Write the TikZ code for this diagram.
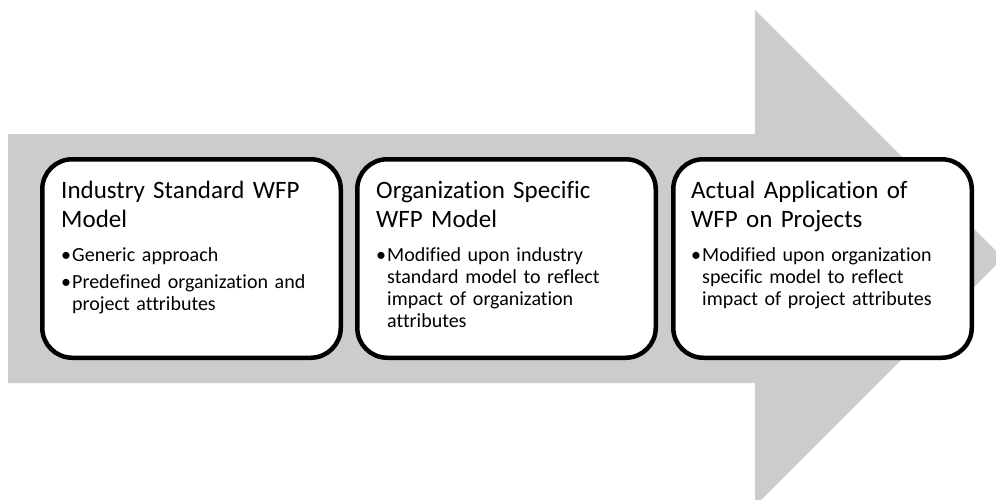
\documentclass[tikz,border=0pt]{standalone}
\usepackage{fontspec}
\setmainfont{Carlito}[Ligatures=NoCommon]
\definecolor{arrowgrey}{RGB}{204,204,204}
% one bulleted paragraph with a hanging indent (close it with \par inside the node)
\newcommand\bitem{\noindent\hangindent=11pt\relax\hbox to 11pt{\textbullet\hfil}}
\begin{document}
\begin{tikzpicture}[x=1pt,y=-1pt,
  stagebox/.style={draw=black, fill=white, line width=4.5pt, rounded corners=30pt,
    minimum width=298.5pt, minimum height=198.5pt, inner sep=0pt},
  titletext/.style={anchor=base west, inner sep=0pt, text width=285pt,
    font=\fontsize{25}{29}\selectfont\raggedright},
  bullettext/.style={anchor=base west, inner sep=0pt, text width=285pt,
    font=\fontsize{20}{22}\selectfont\raggedright}]
\useasboundingbox (0,0) rectangle (996,499);
% large grey process arrow behind the stages
\begin{scope}
  \clip (0,0) rectangle (996,499);
  \fill[arrowgrey] (8,134) -- (755,134) -- (755,10) -- (1003,258)
    -- (755,506) -- (755,383) -- (8,383) -- cycle;
\end{scope}
% stage boxes
\node[stagebox] (s1) at (191.5,258.5) {};
\node[stagebox] (s2) at (506.5,258.5) {};
\node[stagebox] (s3) at (822.5,258.5) {};
% stage 1
\node[titletext] (t1) at (61,198) {Industry Standard WFP\\Model};
\node[bullettext] (b1) at (61,261) {\setlength{\parskip}{5pt}\bitem Generic approach\par
  \bitem Predefined organization and\newline project attributes\par};
% stage 2
\node[titletext] (t2) at (376,198) {Organization Specific\\WFP Model};
\node[bullettext] (b2) at (376,261) {\bitem Modified upon industry\newline standard model to reflect\newline impact of organization\newline attributes\par};
% stage 3
\node[titletext] (t3) at (691,198) {Actual Application of\\WFP on Projects};
\node[bullettext] (b3) at (691,261) {\bitem Modified upon organization\newline specific model to reflect\newline impact of project attributes\par};
\end{tikzpicture}
\end{document}
